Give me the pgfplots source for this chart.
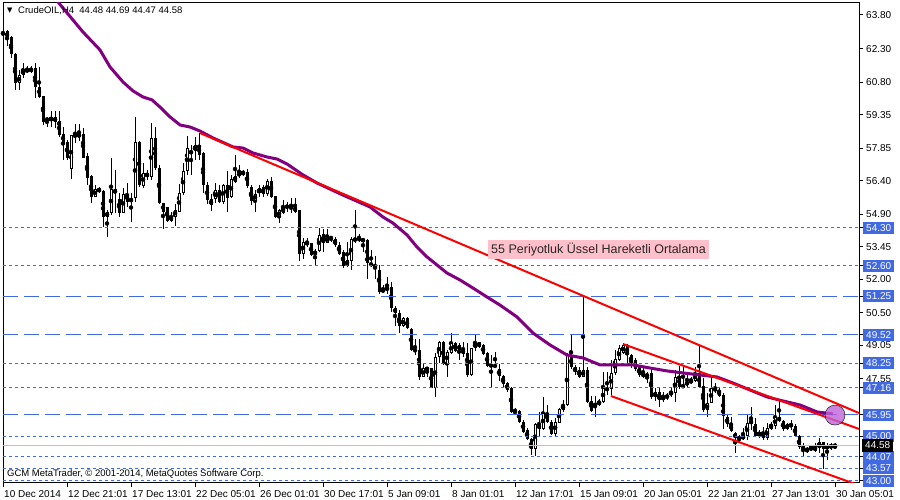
\documentclass[border=0pt]{standalone}
\usepackage{fontspec}
\setmainfont{Liberation Sans}
\newfontfamily\symfont{DejaVu Sans}
\usepackage{pgfplots}
\usepackage{pgfplotstable}
\pgfplotsset{compat=1.18}
\definecolor{lblue}{RGB}{65,105,225}
\definecolor{emapurple}{RGB}{128,0,128}
\definecolor{pinkbg}{RGB}{255,192,203}
\definecolor{silverline}{RGB}{192,192,192}
\definecolor{orchid}{RGB}{190,100,215}

% H4 candles: bar index, open, high, low, close
\pgfplotstableread{
i o h l c
0 62.95 63.13 62.85 63.00
1 63.08 63.13 62.40 62.76
2 62.83 62.85 61.86 62.04
3 62.04 62.10 60.45 60.75
4 60.75 61.34 60.45 61.12
5 61.12 61.67 61.00 61.37
6 61.37 61.52 61.20 61.27
7 61.27 61.52 61.20 61.42
8 61.42 61.67 60.08 60.60
9 60.60 61.50 60.08 60.15
10 60.20 60.20 58.90 59.04
11 59.20 59.26 58.80 59.08
12 59.08 59.53 58.80 59.23
13 59.23 59.53 58.74 59.04
14 59.07 59.53 58.37 58.44
15 58.50 58.80 57.33 58.10
16 58.14 58.20 57.33 57.43
17 56.91 58.44 56.46 58.44
18 58.44 58.93 58.07 58.37
19 58.37 58.93 58.19 58.48
20 58.48 58.74 57.43 57.43
21 57.50 57.65 56.21 56.54
22 56.61 56.65 55.39 55.69
23 55.69 56.21 55.66 56.03
24 56.06 56.10 55.87 55.91
25 55.96 56.00 54.35 54.80
26 54.80 55.09 53.90 54.99
27 54.97 57.40 54.87 56.02
28 56.02 56.90 54.94 55.84
29 55.57 55.84 54.80 54.94
30 54.97 56.06 54.94 55.81
31 55.81 56.28 55.24 55.47
32 55.47 55.84 54.57 55.61
33 55.61 59.23 55.47 58.11
34 58.11 58.19 56.13 56.21
35 56.15 57.18 56.06 56.76
36 56.76 56.90 56.43 56.55
37 56.58 58.99 56.43 58.29
38 58.29 58.78 56.88 56.95
39 56.95 57.10 55.36 55.39
40 55.39 55.42 54.23 55.02
41 55.21 55.25 54.57 54.62
42 54.62 55.00 54.57 54.83
43 54.80 55.36 54.38 55.10
44 55.02 56.26 54.99 55.84
45 55.84 57.18 55.77 56.83
46 56.83 58.40 56.66 57.85
47 57.62 57.99 56.66 57.73
48 57.73 58.37 57.32 57.99
49 57.99 58.52 57.32 57.55
50 57.62 57.70 55.84 56.21
51 56.21 56.36 55.36 55.54
52 55.57 55.81 55.06 55.32
53 55.57 56.30 55.39 55.99
54 55.99 56.21 55.42 55.47
55 55.47 56.26 55.36 56.21
56 56.21 56.83 55.02 55.61
57 55.66 56.66 55.61 56.46
58 56.36 57.55 56.30 56.61
59 56.76 57.10 56.51 56.61
60 56.69 56.88 56.61 56.81
61 56.81 56.91 56.06 56.17
62 56.14 56.21 55.32 55.51
63 55.51 55.99 55.02 55.81
64 55.84 56.21 55.66 56.06
65 56.10 56.21 55.66 55.81
66 55.81 56.46 55.72 56.40
67 56.40 56.58 55.61 55.69
68 55.72 55.72 54.72 54.80
69 54.77 55.12 54.50 55.09
70 54.95 55.54 54.92 55.24
71 55.27 55.47 55.02 55.21
72 55.27 55.61 54.95 55.12
73 55.24 55.61 54.95 55.02
74 55.09 55.09 52.83 53.13
75 53.13 53.83 52.89 53.68
76 53.68 53.83 53.46 53.53
77 53.60 53.64 53.04 53.09
78 53.09 53.34 52.64 53.28
79 53.28 54.28 53.24 53.98
80 54.02 54.23 53.24 53.64
81 53.64 54.23 53.61 53.90
82 53.87 53.93 53.68 53.83
83 53.80 53.87 53.46 53.53
84 53.53 53.68 53.09 53.13
85 53.24 53.31 52.49 52.60
86 52.60 53.68 52.56 52.86
87 52.83 53.90 52.42 53.78
88 53.72 55.09 53.64 53.83
89 53.87 54.02 53.68 53.72
90 53.72 53.80 53.24 53.78
91 53.75 53.78 52.00 52.71
92 52.74 53.31 52.56 52.60
93 52.64 53.04 52.00 52.56
94 52.42 52.64 51.35 51.45
95 51.45 51.75 51.37 51.55
96 51.52 52.09 51.35 51.64
97 51.64 51.90 50.56 50.70
98 50.70 50.81 49.92 50.51
99 50.51 50.63 49.62 49.92
100 49.92 50.33 49.86 50.26
101 50.26 50.30 49.77 49.81
102 49.77 49.81 48.80 48.84
103 48.84 49.32 48.62 48.82
104 48.84 49.32 47.50 47.65
105 47.65 48.28 47.63 48.03
106 47.96 48.10 47.65 48.05
107 48.03 48.03 47.13 47.13
108 47.13 48.70 46.76 48.55
109 48.55 49.26 48.25 49.22
110 49.22 49.26 48.17 48.22
111 48.22 48.84 47.65 48.77
112 48.70 49.62 48.67 49.14
113 49.14 49.22 48.77 48.81
114 49.07 49.14 48.40 48.84
115 48.87 49.22 48.55 48.67
116 48.70 49.14 47.65 47.73
117 47.73 48.92 47.68 48.92
118 48.92 49.51 48.81 49.17
119 49.22 49.22 48.92 48.99
120 49.07 49.11 48.62 48.67
121 48.70 48.77 48.10 48.13
122 48.17 48.62 47.13 48.13
123 48.17 48.77 48.10 48.10
124 48.00 48.20 47.45 47.70
125 47.70 47.73 47.21 47.33
126 47.36 47.43 46.99 47.06
127 47.13 47.21 46.02 46.09
128 46.10 46.24 46.02 46.05
129 46.10 46.17 45.60 45.65
130 45.65 45.72 45.13 45.20
131 45.27 45.35 44.83 44.86
132 44.86 44.90 44.16 44.41
133 44.41 45.57 44.11 45.54
134 45.54 46.09 44.98 45.30
135 45.30 46.76 45.27 46.05
136 46.05 46.39 45.57 45.65
137 45.65 45.72 45.05 45.10
138 45.10 45.79 44.98 45.65
139 45.60 46.24 45.57 46.20
140 46.17 46.61 46.09 46.39
141 46.39 48.70 46.35 48.62
142 48.62 49.51 47.98 48.07
143 48.10 48.17 47.73 47.88
144 47.95 48.10 47.58 47.65
145 47.65 51.23 47.65 47.95
146 47.95 48.10 46.50 46.54
147 46.58 46.80 46.09 46.14
148 46.32 46.80 45.87 46.46
149 46.39 46.65 46.35 46.58
150 46.54 47.88 46.50 47.13
151 47.13 47.88 46.84 47.06
152 47.09 48.40 46.84 47.80
153 47.80 48.85 47.73 48.43
154 48.40 49.07 48.37 48.92
155 48.70 49.14 48.67 49.07
156 49.07 49.11 48.28 48.62
157 48.62 48.67 48.03 48.28
158 48.40 48.47 47.92 47.98
159 48.07 48.17 47.65 47.73
160 47.83 48.13 47.58 47.65
161 47.65 47.88 47.36 47.77
162 47.80 48.07 46.65 46.73
163 46.73 47.13 46.58 46.98
164 46.98 47.13 46.32 46.61
165 46.61 46.98 46.54 46.79
166 46.69 46.91 46.61 46.84
167 46.84 47.13 46.76 46.98
168 46.94 47.95 46.54 47.65
169 47.68 48.13 47.09 47.21
170 47.18 48.17 47.13 47.28
171 47.28 47.80 47.21 47.43
172 47.39 47.65 47.33 47.50
173 47.47 48.10 47.43 47.80
174 47.80 49.07 47.18 47.21
175 47.24 47.58 46.09 46.16
176 46.16 46.91 45.84 46.46
177 46.50 47.65 46.46 47.13
178 47.13 47.36 46.91 47.03
179 47.06 47.21 46.76 46.79
180 46.84 46.91 45.30 45.90
181 45.84 45.95 45.42 45.54
182 45.54 45.84 45.20 45.24
183 45.13 45.20 44.26 44.90
184 44.93 45.05 44.68 44.89
185 44.90 45.35 44.83 45.00
186 45.00 45.95 44.83 45.57
187 45.54 46.31 45.27 45.72
188 45.54 45.79 44.97 45.00
189 45.00 45.27 44.90 45.20
190 45.20 45.42 44.83 44.90
191 44.90 45.57 44.83 45.35
192 45.54 45.65 45.27 45.30
193 45.45 46.39 45.30 45.84
194 45.84 46.65 45.65 45.69
195 45.69 45.72 45.24 45.30
196 45.30 45.57 45.27 45.54
197 45.54 45.72 45.27 45.42
198 45.45 45.54 44.97 45.00
199 45.00 45.05 44.41 44.50
200 44.60 44.68 44.08 44.35
201 44.30 44.53 44.26 44.45
202 44.46 44.53 44.35 44.51
203 44.35 44.68 44.30 44.53
204 44.45 44.90 44.26 44.75
205 44.75 44.75 43.55 44.41
206 44.41 44.68 43.93 44.60
207 44.50 44.68 44.38 44.60
208 44.48 44.69 44.47 44.58
}\candles

% 55 period EMA
\pgfplotstableread{
x y
11.75 64.92
13.75 64.38
20 63.04
24.25 62.24
26.75 61.48
30 60.81
32.5 60.41
35 60.14
37.25 60.01
39.25 59.69
41.75 59.25
44.25 58.89
46.75 58.80
49.25 58.62
52.5 58.31
57.5 57.91
60 57.86
62.5 57.64
66 57.46
68.5 57.37
71 57.15
75 56.66
78.5 56.30
85 55.76
91.75 55.23
95 54.78
97.5 54.51
101 53.98
103.5 53.44
106 53.00
108.5 52.64
111 52.28
114.25 51.97
117.5 51.61
121 51.21
124.25 50.85
128.5 50.32
132.5 49.60
136.75 49.07
141 48.62
145 48.49
149.25 48.18
153.5 48.18
157.5 48.18
161.75 48.04
166 47.91
170 47.82
174.25 47.73
178.5 47.64
182.5 47.37
186.75 47.06
191 46.75
195 46.57
199.25 46.39
203.5 46.08
207.5 45.99
}\ema

\begin{document}
\begin{tikzpicture}
\useasboundingbox (0,0) rectangle (900pt,500pt);
\begin{axis}[
    at={(3pt,17pt)}, anchor=south west,
    scale only axis, width=856pt, height=480pt,
    xmin=0, xmax=214, ymin=42.907, ymax=64.336,
    clip mode=individual,
    axis line style={black, line width=1pt},
    tick style={black, line width=1pt},
    tick align=outside, major tick length=4pt,
    xtick pos=left, ytick pos=right, yticklabel pos=right,
    tick label style={font=\fontsize{10}{12}\selectfont, text=black},
    xtick={0,16,...,208},
    xticklabels={10 Dec 2014, 12 Dec 21:01, 17 Dec 13:01, 22 Dec 05:01, 26 Dec 01:01,
        30 Dec 17:01, 5 Jan 09:01, 8 Jan 01:01, 12 Jan 17:01, 15 Jan 09:01,
        20 Jan 05:01, 22 Jan 21:01, 27 Jan 13:01, 30 Jan 05:01},
    xticklabel style={anchor=north west, inner sep=0pt, xshift=1pt, yshift=-3pt},
    ytick={63.80,62.30,60.80,59.35,57.85,56.40,54.90,53.45,52.00,50.50,49.05,47.55},
    yticklabel style={anchor=west, inner xsep=3pt, inner ysep=2.5pt,
        /pgf/number format/fixed, /pgf/number format/fixed zerofill,
        /pgf/number format/precision=2, /pgf/number format/assume math mode=true},
    extra y ticks={54.30,52.60,51.25,49.52,48.25,47.16,45.95,45.00,44.07,43.57,43.00},
    extra y tick style={yticklabel style={fill=lblue, text=white}},
]
% wicks
\addplot[only marks, mark=none, forget plot,
    error bars/.cd, y dir=both, y explicit, error mark=none,
    error bar style={draw=black, solid, line width=1pt}]
    table[x=i, y expr={(\thisrow{h}+\thisrow{l})/2}, y error expr={(\thisrow{h}-\thisrow{l})/2}] {\candles};
% bodies
\addplot[only marks, mark=none, forget plot,
    error bars/.cd, y dir=both, y explicit, error mark=none,
    error bar style={draw=black, solid, line width=3pt}]
    table[x=i, y expr={(\thisrow{o}+\thisrow{c})/2}, y error expr={max(abs(\thisrow{c}-\thisrow{o})/2,0.0223)}] {\candles};
% hollow inside of rising candles
\addplot[only marks, mark=none, forget plot,
    error bars/.cd, y dir=both, y explicit, error mark=none,
    error bar style={draw=white, solid, line width=1pt}]
    table[x=i, y expr={\thisrow{c}>\thisrow{o} ? (\thisrow{o}+\thisrow{c})/2 : 100},
          y error expr={max((\thisrow{c}-\thisrow{o})/2-0.0446,0)}] {\candles};

% support / resistance levels
\addplot[lblue, line width=1pt, dash pattern=on 3pt off 3pt] coordinates {(0,54.30) (214,54.30)};
\addplot[lblue, line width=1pt, dash pattern=on 3pt off 3pt] coordinates {(0,52.60) (214,52.60)};
\addplot[lblue, line width=1pt, dash pattern=on 15pt off 6pt] coordinates {(0,51.25) (214,51.25)};
\addplot[lblue, line width=1pt, dash pattern=on 15pt off 6pt] coordinates {(0,49.52) (214,49.52)};
\addplot[lblue, line width=1pt, dash pattern=on 3pt off 3pt] coordinates {(0,48.25) (214,48.25)};
\addplot[lblue, line width=1pt, dash pattern=on 3pt off 3pt] coordinates {(0,47.16) (214,47.16)};
\addplot[lblue, line width=1pt, dash pattern=on 15pt off 6pt] coordinates {(0,45.95) (214,45.95)};
\addplot[lblue, line width=1pt, dash pattern=on 3pt off 3pt] coordinates {(0,45.00) (214,45.00)};
\addplot[silverline, line width=1pt] coordinates {(0,44.58) (214,44.58)};
\addplot[lblue, line width=1pt, dash pattern=on 3pt off 3pt] coordinates {(0,44.07) (214,44.07)};
\addplot[lblue, line width=1pt, dash pattern=on 3pt off 3pt] coordinates {(0,43.57) (214,43.57)};
\addplot[lblue, line width=1pt, dash pattern=on 3pt off 3pt] coordinates {(0,43.00) (214,43.00)};

% EMA and trend channel
\addplot[emapurple, line width=3pt] table[x=x, y=y] {\ema};
\addplot[red, line width=2pt] coordinates {(49.25,58.53) (214,46.03)};
\addplot[red, line width=2pt] coordinates {(155,49.11) (214,45.32)};
\addplot[red, line width=2pt] coordinates {(152,46.79) (214,42.80)};
\addplot[only marks, mark=*, mark size=10pt,
    mark options={draw=none, fill=orchid, fill opacity=0.8}] coordinates {(208,45.94)};

\node[fill=pinkbg, anchor=west, inner xsep=3pt, inner ysep=3pt, text=black!85,
    font=\fontsize{12.5}{14}\selectfont] at (axis cs:121.25,53.35) {55 Periyotluk Üssel Hareketli Ortalama};
\node[fill=black, text=white, anchor=west, inner xsep=3pt, inner ysep=2.5pt,
    font=\fontsize{10}{12}\selectfont, xshift=3pt] at (axis cs:214,44.58) {44.58};
\node[anchor=west, inner sep=0pt, font=\symfont\fontsize{7}{8}\selectfont,
    xshift=4pt, yshift=-8pt] at (axis description cs:0,1) {▼};
\node[anchor=west, inner sep=0pt, font=\fontsize{9.5}{11}\selectfont,
    xshift=15pt, yshift=-7.5pt] at (axis description cs:0,1) {CrudeOIL,H4\ \ 44.48 44.69 44.47 44.58};
\node[anchor=west, inner sep=0pt, font=\fontsize{9.5}{11}\selectfont,
    xshift=4pt, yshift=8.5pt] at (axis description cs:0,0) {GCM MetaTrader, © 2001-2014, MetaQuotes Software Corp.};
\end{axis}
\end{tikzpicture}
\end{document}
